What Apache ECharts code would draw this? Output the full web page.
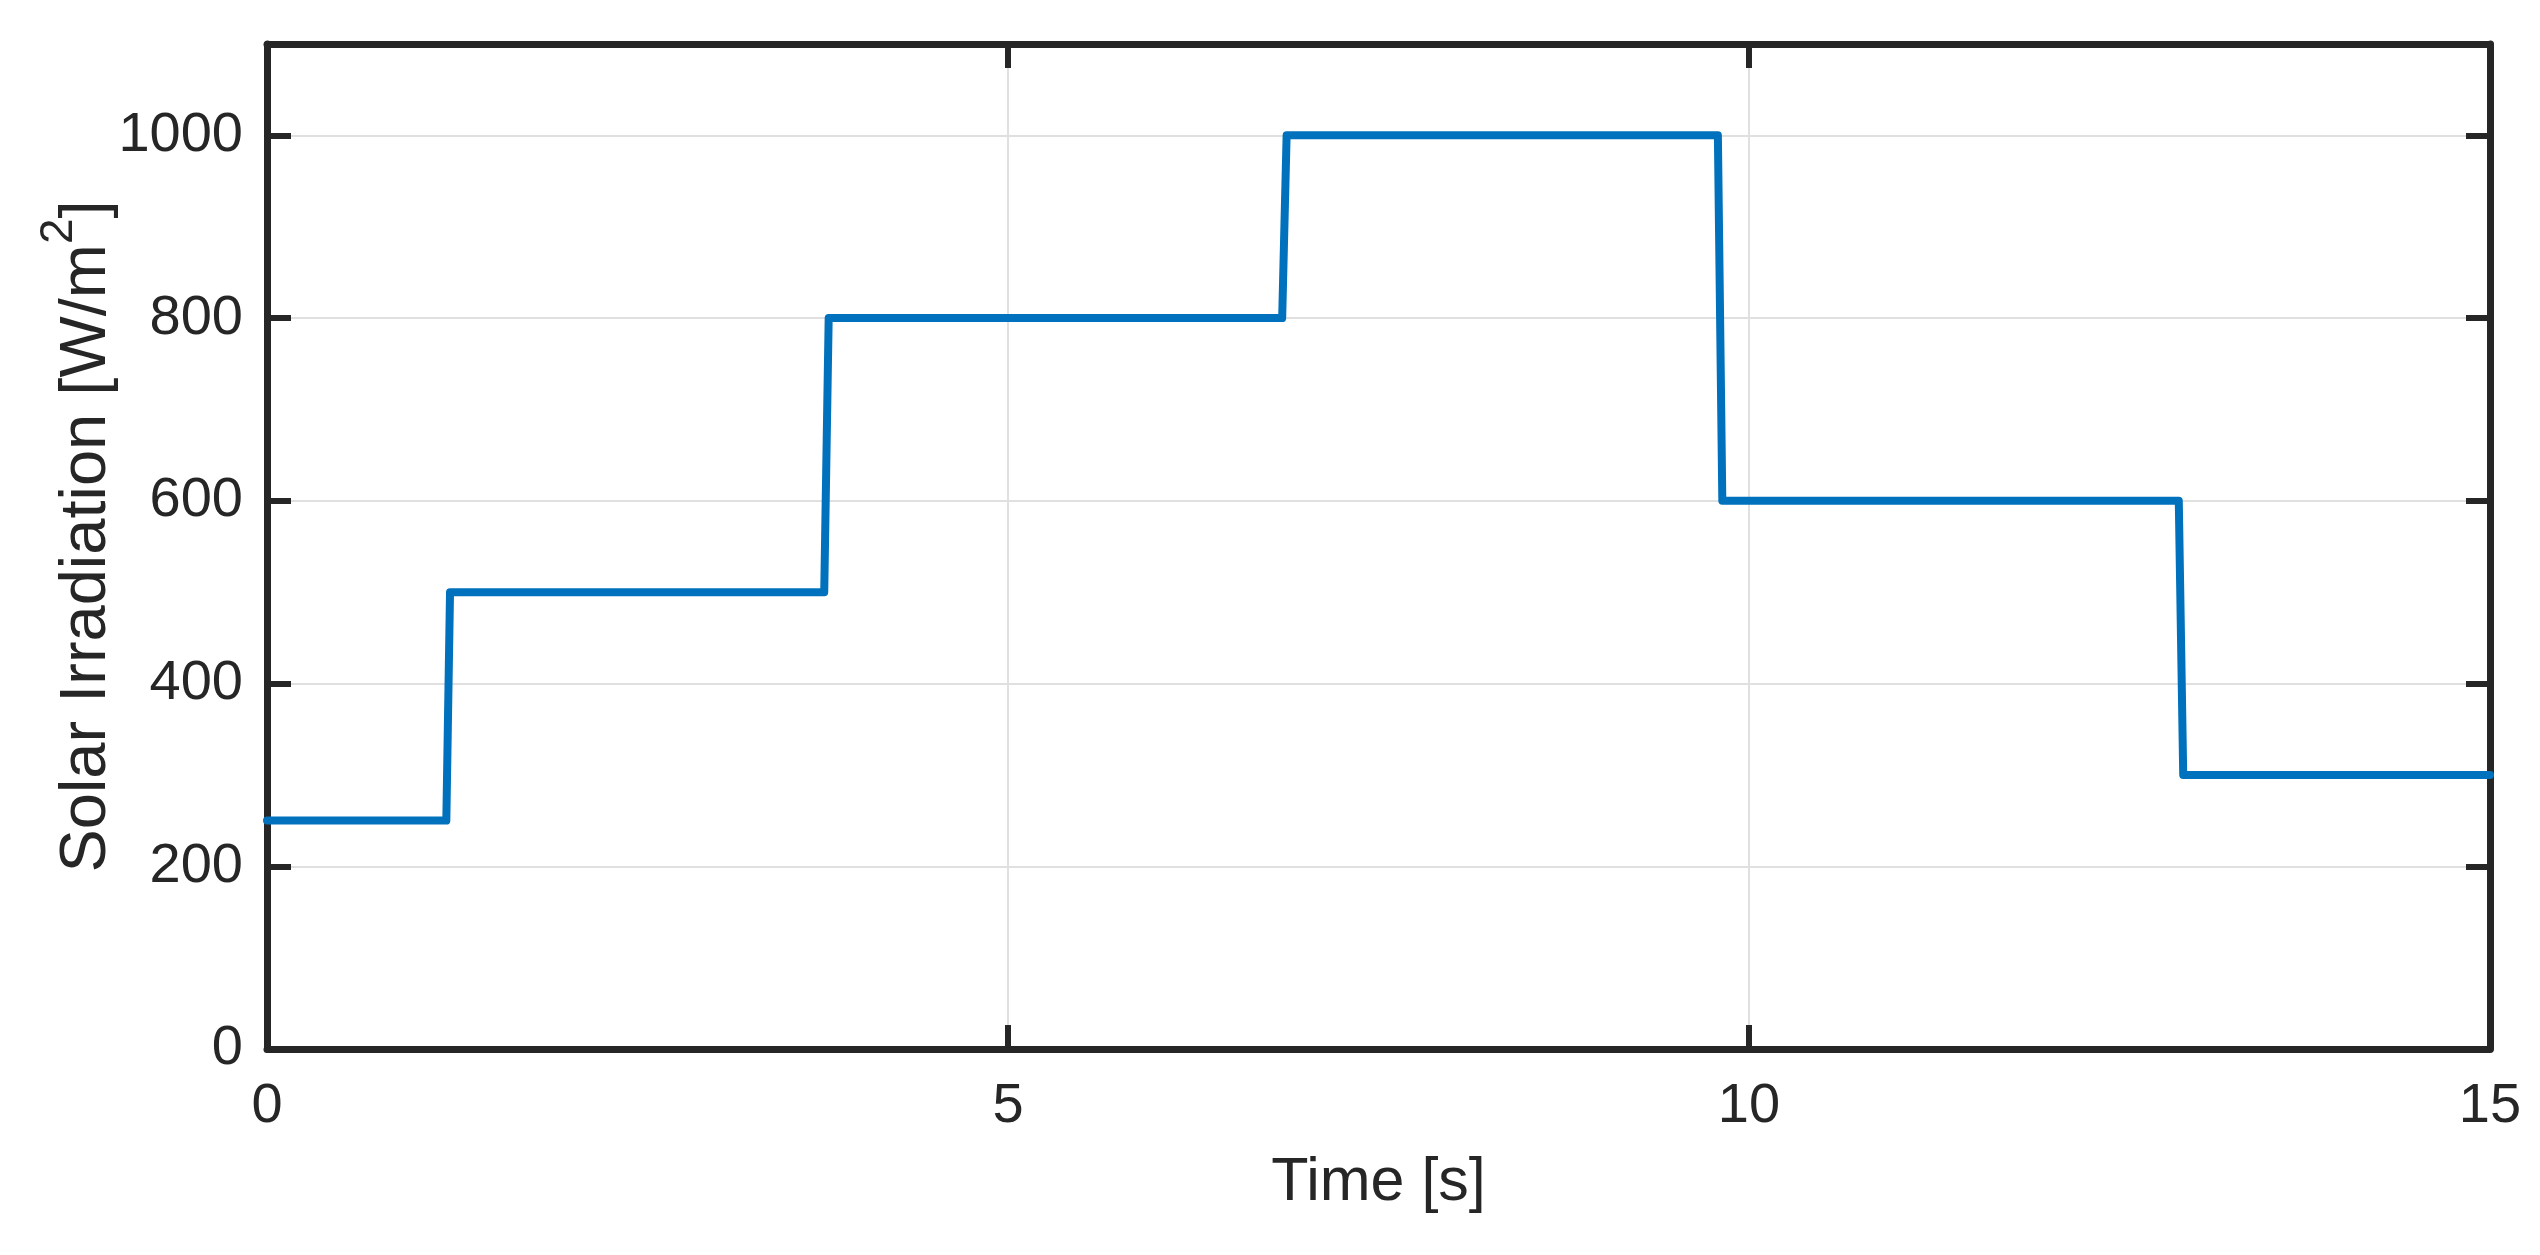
<!DOCTYPE html>
<html>
<head>
<meta charset="utf-8">
<script src="https://cdn.jsdelivr.net/npm/echarts@6/dist/echarts.min.js"></script>
<style>
html,body{margin:0;padding:0;background:#fff;}
#chart{width:2540px;height:1255px;}
</style>
</head>
<body>
<div id="chart"></div>
<script>
// Data
const timeS = [0, 1.21, 1.235, 3.76, 3.79, 6.85, 6.88, 9.79, 9.82, 12.90, 12.93, 15];
const irradiation = [250, 250, 500, 500, 800, 800, 1000, 1000, 600, 600, 300, 300];
const xTickLabels = ['0', '5', '10', '15'];
const yTickLabels = ['0', '200', '400', '600', '800', '1000'];

const seriesData = timeS.map((t, i) => [t, irradiation[i]]);

const FONT = '"Liberation Sans", Arial, Helvetica, sans-serif';
const AX = '#262626';

const chart = echarts.init(document.getElementById('chart'), null, {renderer: 'canvas'});

const common = {
  axisLine: {show: true, onZero: false, lineStyle: {color: AX, width: 7}},
  axisTick: {show: true, inside: true, length: 24, lineStyle: {color: AX, width: 6}},
};

chart.setOption({
  animation: false,
  backgroundColor: '#ffffff',
  grid: {left: 267, right: 50, top: 44, bottom: 206, containLabel: false},
  xAxis: [
    Object.assign({
      type: 'value', position: 'bottom', min: 0, max: 15, interval: 5,
      name: 'Time [s]', nameLocation: 'middle', nameGap: 104, nameMoveOverlap: false,
      nameTextStyle: {fontFamily: FONT, fontSize: 61, color: AX},
      axisLabel: {
        fontFamily: FONT, fontSize: 56, color: AX, margin: 30,
        formatter: v => xTickLabels.includes(String(v)) ? String(v) : ''
      },
      splitLine: {show: true, lineStyle: {color: '#e0e0e0', width: 2}},
    }, common),
    Object.assign({
      type: 'value', position: 'top', min: 0, max: 15, interval: 5,
      axisLabel: {show: false}, splitLine: {show: false},
    }, common)
  ],
  yAxis: [
    Object.assign({
      type: 'value', position: 'left', min: 0, max: 1100, interval: 200,
      name: '{a|Solar Irradiation [W/m}{s|2}{a|]}',
      nameLocation: 'middle', nameGap: 147, nameRotate: 90, nameMoveOverlap: false,
      nameTextStyle: {
        fontFamily: FONT, color: AX, padding: [0, 0, 0, 20],
        rich: {
          a: {fontFamily: FONT, fontSize: 65, color: AX, lineHeight: 84, verticalAlign: 'bottom'},
          s: {fontFamily: FONT, fontSize: 46, color: AX, lineHeight: 64, verticalAlign: 'top'}
        }
      },
      axisLabel: {
        fontFamily: FONT, fontSize: 56, color: AX, margin: 24,
        formatter: v => yTickLabels.includes(String(v)) ? String(v) : ''
      },
      splitLine: {show: true, lineStyle: {color: '#e0e0e0', width: 2}},
    }, common),
    Object.assign({
      type: 'value', position: 'right', min: 0, max: 1100, interval: 200,
      axisLabel: {show: false}, splitLine: {show: false},
    }, common)
  ],
  series: [{
    type: 'line',
    xAxisIndex: 0, yAxisIndex: 0,
    data: seriesData,
    showSymbol: false,
    symbol: 'none',
    lineStyle: {color: '#0072BD', width: 8, join: 'round', cap: 'round'},
    z: 3
  }]
});
</script>
</body>
</html>
